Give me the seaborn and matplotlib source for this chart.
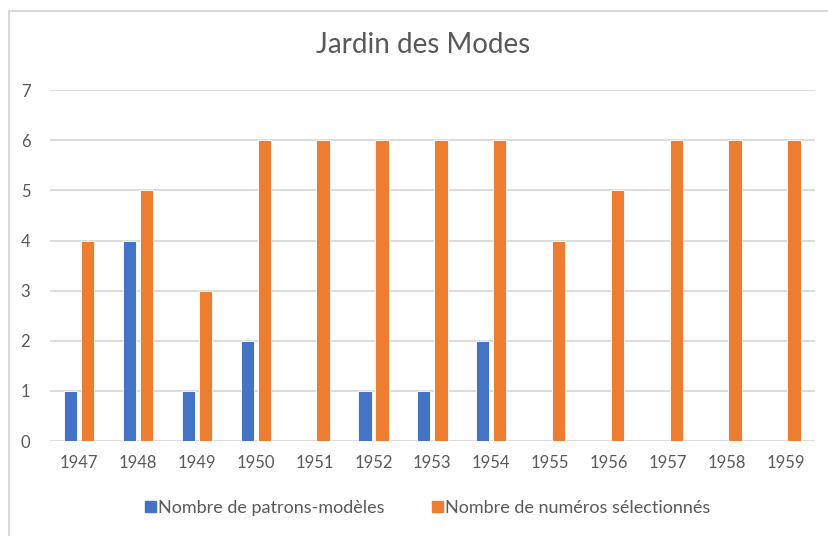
import matplotlib
matplotlib.use('Agg')
import matplotlib.pyplot as plt
import matplotlib.patches as mpatches
import seaborn as sns
import pandas as pd

# --- Data ---
years = ['1947', '1948', '1949', '1950', '1951', '1952', '1953',
         '1954', '1955', '1956', '1957', '1958', '1959']
patrons = [1, 4, 1, 2, 0, 1, 1, 2, 0, 0, 0, 0, 0]
numeros = [4, 5, 3, 6, 6, 6, 6, 6, 4, 5, 6, 6, 6]
series_names = ['Nombre de patrons-modèles', 'Nombre de numéros sélectionnés']
colors = ['#4472C4', '#ED7D31']
title = 'Jardin des Modes'

df = pd.DataFrame({
    'year': years * 2,
    'value': patrons + numeros,
    'serie': [series_names[0]] * len(years) + [series_names[1]] * len(years),
})

sns.set_theme(style='white')
plt.rcParams['font.family'] = ['Lato', 'DejaVu Sans']
TXT = '#595959'
GRID = '#D9D9D9'

fig = plt.figure(figsize=(8.29, 5.36), dpi=100)
ax = fig.add_axes([0.060, 0.177, 0.923, 0.655])

sns.barplot(data=df, x='year', y='value', hue='serie', order=years,
            hue_order=series_names, palette=dict(zip(series_names, colors)),
            width=0.58, gap=0.22, edgecolor='white', linewidth=0.6,
            saturation=1, ax=ax)

ax.set_ylim(0, 7)
ax.set_yticks(range(0, 8))
ax.set_xlim(-0.5, len(years) - 0.5)
ax.yaxis.grid(True, color=GRID, linewidth=1.3)
ax.set_axisbelow(True)
for s in ax.spines.values():
    s.set_visible(False)
ax.set_xlabel('')
ax.set_ylabel('')
ax.tick_params(axis='both', length=0, labelsize=12, labelcolor=TXT)
ax.tick_params(axis='x', pad=10)
ax.tick_params(axis='y', pad=14)

fig.text(0.51, 0.916, title, ha='center', va='center', fontsize=20, color=TXT)

handles = [mpatches.Patch(color=c) for c in colors]
ax.get_legend().remove()
fig.legend(handles, series_names, loc='center', bbox_to_anchor=(0.516, 0.052),
           ncol=2, frameon=False, fontsize=13, labelcolor=TXT,
           handlelength=0.6, handleheight=0.6, handletextpad=0.15,
           columnspacing=2.6)

# chart frame
frame = mpatches.Rectangle((0.011, -0.05), 1.05, 1.029, transform=fig.transFigure,
                           fill=False, edgecolor=GRID, linewidth=1.5, clip_on=False)
fig.patches.append(frame)

fig.savefig('out.png', dpi=100)
